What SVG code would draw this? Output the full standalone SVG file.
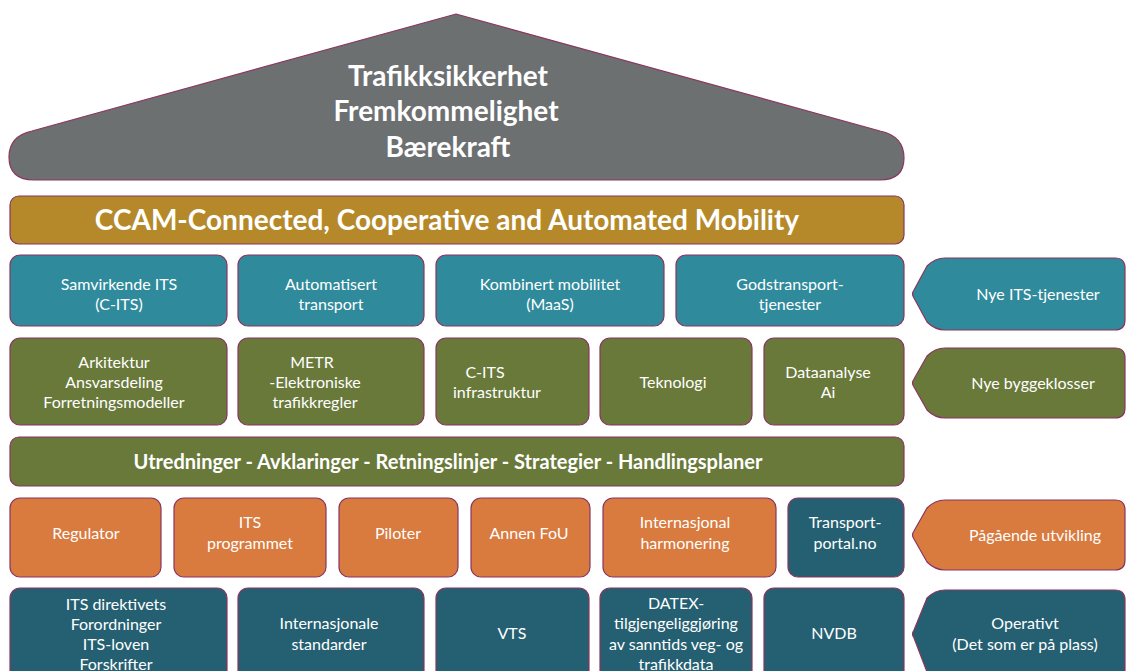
<svg xmlns="http://www.w3.org/2000/svg" width="1127" height="671" viewBox="0 0 1127 671">
<style>
.b{stroke:#8a3560;stroke-width:1.2}
.grey{fill:#6d7071}
.gold{fill:#b5892a}
.teal{fill:#2f8a9c}
.olive{fill:#69793a}
.orange{fill:#d97a3e}
.dark{fill:#255f72}
text{font-family:Lato,"Liberation Sans",sans-serif;fill:#fff;text-anchor:middle}
.t{font-size:16px}
.roof{font-size:28px;font-weight:bold}
.big{font-size:28px;font-weight:bold}
.bar{font-size:20px;font-weight:bold}
</style>
<rect width="1127" height="671" fill="#fff"/>
<g id="roof">
<path class="b grey" d="M456,14 L880,131 Q904,136 904,158 Q904,180 880,180 L34,180 Q9,180 9,157 Q9,136 32,131 Z"/>
<text class="roof" x="448" y="86">Trafikksikkerhet</text>
<text class="roof" x="446" y="121">Fremkommelighet</text>
<text class="roof" x="448" y="157">Bærekraft</text>
</g>
<g id="ccam">
<rect class="b gold" x="10" y="196" width="894" height="48" rx="9"/>
<text class="big" x="447" y="230">CCAM-Connected, Cooperative and Automated Mobility</text>
</g>
<g id="samvirkende">
<rect class="b teal" x="10" y="255" width="217" height="71" rx="10"/>
<text class="t" x="119" y="290">Samvirkende ITS</text><text class="t" x="119" y="310">(C-ITS)</text>
</g>
<g id="automatisert">
<rect class="b teal" x="238" y="255" width="186" height="71" rx="10"/>
<text class="t" x="331" y="290">Automatisert</text><text class="t" x="331" y="310">transport</text>
</g>
<g id="kombinert">
<rect class="b teal" x="436" y="255" width="228" height="71" rx="10"/>
<text class="t" x="550" y="290">Kombinert mobilitet</text><text class="t" x="550" y="310">(MaaS)</text>
</g>
<g id="godstransport">
<rect class="b teal" x="676" y="255" width="228" height="71" rx="10"/>
<text class="t" x="790" y="290">Godstransport-</text><text class="t" x="790" y="310">tjenester</text>
</g>
<g id="nye-its">
<path class="b teal" d="M945,258 L1115,258 Q1125,258 1125,268 L1125,320 Q1125,330 1115,330 L945,330 Q935,330 927,322 L914,298 Q911,294 914,290 L927,266 Q935,258 945,258 Z"/>
<text class="t" x="1038" y="300">Nye ITS-tjenester</text>
</g>
<g id="arkitektur">
<rect class="b olive" x="10" y="338" width="217" height="87" rx="10"/>
<text class="t" x="114" y="368">Arkitektur</text><text class="t" x="114" y="388">Ansvarsdeling</text><text class="t" x="114" y="408">Forretningsmodeller</text>
</g>
<g id="metr">
<rect class="b olive" x="238" y="338" width="186" height="87" rx="10"/>
<text class="t" x="312" y="368">METR</text><text class="t" x="315" y="388">-Elektroniske</text><text class="t" x="315" y="408">trafikkregler</text>
</g>
<g id="c-its-infra">
<rect class="b olive" x="436" y="338" width="153" height="87" rx="10"/>
<text class="t" x="485" y="378">C-ITS</text><text class="t" x="497" y="398">infrastruktur</text>
</g>
<g id="teknologi">
<rect class="b olive" x="600" y="338" width="152" height="87" rx="10"/>
<text class="t" x="673" y="388">Teknologi</text>
</g>
<g id="dataanalyse">
<rect class="b olive" x="764" y="338" width="140" height="87" rx="10"/>
<text class="t" x="828" y="378">Dataanalyse</text><text class="t" x="828" y="398">Ai</text>
</g>
<g id="nye-bygg">
<path class="b olive" d="M945,348 L1115,348 Q1125,348 1125,358 L1125,408 Q1125,418 1115,418 L945,418 Q935,418 927,410 L914,387 Q911,383 914,379 L927,356 Q935,348 945,348 Z"/>
<text class="t" x="1033" y="389">Nye byggeklosser</text>
</g>
<g id="utredninger">
<rect class="b olive" x="10" y="437" width="894" height="49" rx="9"/>
<text class="bar" x="448" y="469">Utredninger - Avklaringer - Retningslinjer - Strategier - Handlingsplaner</text>
</g>
<g id="regulator">
<rect class="b orange" x="10" y="498" width="151" height="79" rx="10"/>
<text class="t" x="86" y="539">Regulator</text>
</g>
<g id="its-programmet">
<rect class="b orange" x="174" y="498" width="152" height="79" rx="10"/>
<text class="t" x="250" y="528">ITS</text><text class="t" x="250" y="549">programmet</text>
</g>
<g id="piloter">
<rect class="b orange" x="339" y="498" width="119" height="79" rx="10"/>
<text class="t" x="398" y="539">Piloter</text>
</g>
<g id="annen-fou">
<rect class="b orange" x="471" y="498" width="119" height="79" rx="10"/>
<text class="t" x="529" y="539">Annen FoU</text>
</g>
<g id="internasjonal">
<rect class="b orange" x="603" y="498" width="173" height="79" rx="10"/>
<text class="t" x="685" y="528">Internasjonal</text><text class="t" x="685" y="549">harmonering</text>
</g>
<g id="transportportal">
<rect class="b dark" x="788" y="498" width="116" height="79" rx="10"/>
<text class="t" x="845" y="528">Transport-</text><text class="t" x="845" y="549">portal.no</text>
</g>
<g id="pagaende">
<path class="b orange" d="M945,500 L1115,500 Q1125,500 1125,510 L1125,560 Q1125,570 1115,570 L945,570 Q935,570 927,562 L914,539 Q911,535 914,531 L927,508 Q935,500 945,500 Z"/>
<text class="t" x="1035" y="541">Pågående utvikling</text>
</g>
<g id="its-direktivets">
<rect class="b dark" x="10" y="588" width="217" height="95" rx="10"/>
<text class="t" x="116" y="610">ITS direktivets</text><text class="t" x="116" y="630">Forordninger</text><text class="t" x="116" y="650">ITS-loven</text><text class="t" x="116" y="670">Forskrifter</text>
</g>
<g id="standarder">
<rect class="b dark" x="238" y="588" width="186" height="95" rx="10"/>
<text class="t" x="329" y="629">Internasjonale</text><text class="t" x="329" y="650">standarder</text>
</g>
<g id="vts">
<rect class="b dark" x="436" y="588" width="153" height="95" rx="10"/>
<text class="t" x="512" y="639">VTS</text>
</g>
<g id="datex">
<rect class="b dark" x="600" y="588" width="152" height="95" rx="10"/>
<text class="t" x="676" y="609">DATEX-</text><text class="t" x="676" y="629">tilgjengeliggjøring</text><text class="t" x="676" y="650">av sanntids veg- og</text><text class="t" x="676" y="670">trafikkdata</text>
</g>
<g id="nvdb">
<rect class="b dark" x="764" y="588" width="140" height="95" rx="10"/>
<text class="t" x="834" y="639">NVDB</text>
</g>
<g id="operativt">
<path class="b dark" d="M945,590 L1115,590 Q1125,590 1125,600 L1125,670 Q1125,680 1115,680 L945,680 Q935,680 927,672 L914,638 Q911,634 914,630 L927,598 Q935,590 945,590 Z"/>
<text class="t" x="1025" y="629">Operativt</text><text class="t" x="1025" y="650">(Det som er på plass)</text>
</g>
<g id="connectors"/>
</svg>
